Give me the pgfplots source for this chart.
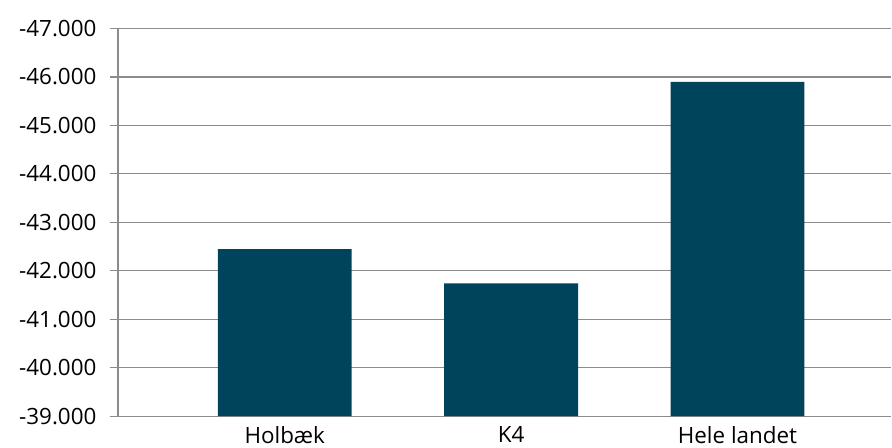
\documentclass[border=0pt]{standalone}
\usepackage{pgfplots}
\pgfplotsset{compat=1.18}
\usepackage{fontspec}
\setmainfont{Open Sans}
\definecolor{barc}{RGB}{0,68,92}
\definecolor{gridc}{RGB}{140,140,140}
\begin{document}
\begin{tikzpicture}[x=1bp,y=1bp]
\begin{axis}[
  scale only axis,
  width=774bp, height=388bp,
  ymin=-47000, ymax=-39000,
  y dir=reverse,
  ytick={-47000,-46000,...,-39000},
  scaled y ticks=false,
  xmin=-0.737, xmax=2.68,
  xtick={0,1,2},
  xticklabels={Holbæk,\raisebox{2bp}{K4},\raisebox{-3bp}{Hele landet}},
  ybar, bar width=134bp, bar shift=0pt,
  axis x line*=bottom,
  axis y line*=left,
  ymajorgrids,
  grid style={gridc, line width=1.2bp},
  axis line style={gridc, line width=1.2bp},
  x axis line style={-}, y axis line style={-},
  tick style={gridc, line width=1.2bp},
  major tick length=8bp,
  xtick style={draw=none},
  ytick align=outside,
  tick label style={font=\fontsize{22.5}{26}\selectfont, text=black},
  /pgf/number format/fixed,
  /pgf/number format/precision=0,
  /pgf/number format/1000 sep={.},
  /pgf/number format/assume math mode=true,
  every y tick label/.append style={xshift=-10bp},
  every x tick label/.append style={yshift=1.5bp},
  clip=true,
]
\addplot[fill=barc, draw=none] coordinates {(0,-42450) (1,-41740) (2,-45900)};
\end{axis}
\path[use as bounding box] ([shift={(-118bp,-29.5bp)}]current axis.south west) rectangle ([shift={(0bp,28.5bp)}]current axis.north east);
\end{tikzpicture}
\end{document}
